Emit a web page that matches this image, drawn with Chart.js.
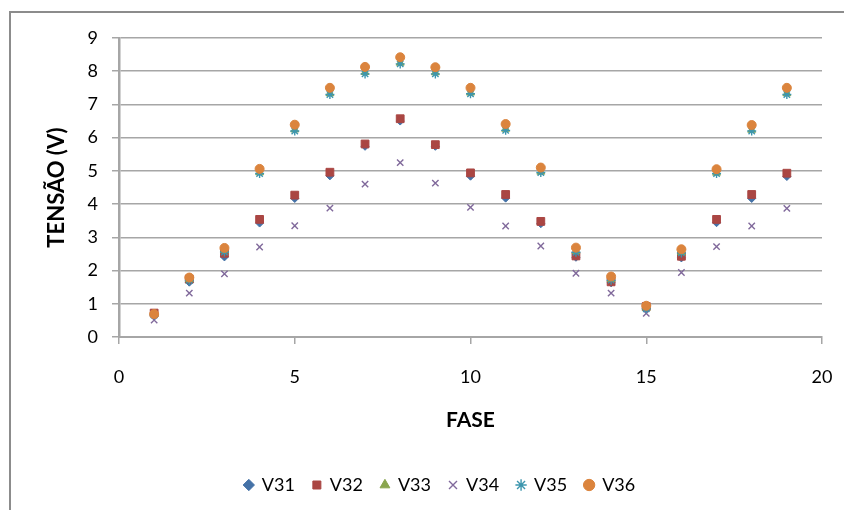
<!DOCTYPE html>
<html>
<head>
<meta charset="utf-8">
<script src="https://cdn.jsdelivr.net/npm/chart.js@4/dist/chart.umd.min.js"></script>
<style>
  html, body { margin: 0; padding: 0; background: #ffffff; }
  #wrap { width: 844px; height: 510px; position: relative; }
</style>
</head>
<body>
<div id="wrap"><canvas id="c" width="844" height="510"></canvas></div>
<script>
// Phase (x) values
const fase = [1,2,3,4,5,6,7,8,9,10,11,12,13,14,15,16,17,18,19];
// Series values (voltage)
const v31 = [0.66,1.65,2.41,3.43,4.17,4.85,5.74,6.50,5.74,4.84,4.18,3.41,2.40,1.63,0.85,2.38,3.44,4.17,4.83];
const v32 = [0.72,1.74,2.52,3.54,4.27,4.96,5.81,6.57,5.79,4.94,4.29,3.48,2.44,1.66,0.92,2.43,3.54,4.29,4.93];
const v33 = [0.68,1.73,2.60,4.95,6.24,7.33,7.97,8.25,7.96,7.35,6.26,4.97,2.58,1.74,0.87,2.55,4.94,6.23,7.33];
const v34 = [0.51,1.32,1.90,2.71,3.35,3.88,4.60,5.25,4.63,3.90,3.34,2.74,1.92,1.32,0.71,1.94,2.72,3.34,3.87];
const v35 = [0.66,1.70,2.56,4.92,6.20,7.30,7.92,8.22,7.92,7.32,6.22,4.95,2.55,1.71,0.85,2.53,4.92,6.20,7.30];
const v36 = [0.69,1.79,2.68,5.06,6.39,7.50,8.13,8.42,8.12,7.50,6.41,5.10,2.69,1.82,0.94,2.64,5.05,6.38,7.50];
// Axis tick values
const xTicks = [0,5,10,15,20];
const yTicks = [0,1,2,3,4,5,6,7,8,9];

const names = ['V31','V32','V33','V34','V35','V36'];
const values = [v31, v32, v33, v34, v35, v36];
const colors = ['#4572A7','#AA4643','#89A54E','#80699B','#3D96AE','#DB843D'];
const styles = ['rectRot','rect','triangle','crossRot','star','circle'];
const radii = [4, 5.5, 4.5, 4.5, 4.5, 4.5];
const borders = [1, 1, 1, 1.4, 1.4, 1];

const datasets = names.map((n, i) => ({
  label: n,
  data: fase.map((x, j) => ({x: x, y: values[i][j]})),
  backgroundColor: colors[i],
  borderColor: colors[i],
  pointStyle: styles[i],
  pointRadius: radii[i],
  pointHoverRadius: radii[i],
  pointBorderWidth: borders[i],
  showLine: false,
  order: 6 - i
}));

const framePlugin = {
  id: 'frame',
  beforeDraw(chart) {
    const ctx = chart.ctx;
    ctx.save();
    ctx.fillStyle = '#ffffff';
    ctx.fillRect(0, 0, chart.width, chart.height);
    ctx.strokeStyle = '#8c8c8c';
    ctx.lineWidth = 2;
    ctx.strokeRect(10, 12, 1000, 800);
    ctx.restore();
  }
};

const FONT = "Lato, 'Open Sans', sans-serif";

new Chart(document.getElementById('c'), {
  type: 'scatter',
  data: { datasets: datasets },
  plugins: [framePlugin],
  options: {
    responsive: false,
    animation: false,
    devicePixelRatio: 1,
    layout: { padding: { left: 44, right: 8, top: 38, bottom: 6 } },
    plugins: {
      tooltip: { enabled: false },
      legend: {
        position: 'bottom',
        labels: {
          usePointStyle: true,
          boxWidth: 8,
          boxHeight: 8,
          padding: 18,
          color: '#000000',
          font: { family: FONT, size: 18 },
          sort: (a, b) => a.datasetIndex - b.datasetIndex
        }
      }
    },
    scales: {
      x: {
        type: 'linear',
        min: 0, max: 20,
        afterFit(s) { s.height = 121; s.paddingRight = 22; },
        afterBuildTicks(s) { s.ticks = xTicks.map(v => ({value: v})); },
        ticks: { color: '#000000', font: { family: FONT, size: 18 }, padding: 22 },
        grid: { drawOnChartArea: false, drawTicks: true, tickLength: 7, color: '#a6a6a6', lineWidth: 1.5 },
        border: { color: '#a6a6a6', width: 2 },
        title: { display: true, text: 'FASE', color: '#000000', font: { family: FONT, size: 21, weight: 'bold' }, padding: { top: 0, bottom: 25 } }
      },
      y: {
        type: 'linear',
        min: 0, max: 9,
        afterFit(s) { s.width = 75; },
        afterBuildTicks(s) { s.ticks = yTicks.map(v => ({value: v})); },
        ticks: { color: '#000000', font: { family: FONT, size: 18 }, padding: 14 },
        grid: { drawOnChartArea: true, drawTicks: true, tickLength: 7, color: '#a6a6a6', lineWidth: 1.5 },
        border: { color: '#a6a6a6', width: 2.5 },
        title: { display: true, text: 'TENSÃO (V)', color: '#000000', font: { family: FONT, size: 22, weight: 'bold' }, padding: { top: 0, bottom: 0 } }
      }
    }
  }
});
</script>
</body>
</html>
